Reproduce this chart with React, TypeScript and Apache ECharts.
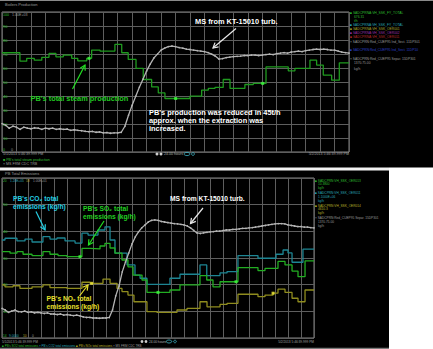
import React, { useEffect, useRef } from "react";
import * as echarts from "echarts";

// ---------- DATA ----------
// Top panel: PB's total steam production (step line), time in hours (0-24)
const steamTimes = [0, 1.24, 1.71, 2.23, 2.75, 3.25, 3.73, 4.24, 4.82, 5.24, 5.86, 6.2, 6.78, 7.81, 8.28, 8.73, 9.27, 9.77, 10.35, 10.81, 11.27, 13.0, 13.81, 14.27, 14.73, 15.3, 15.77, 16.8, 17.38, 18.26, 19.8, 20.26, 21.3, 21.76, 22.22, 22.8, 23.33, 24];
const steamValues = [70.9, 64.9, 66.9, 65.6, 67.6, 70.4, 68, 69.2, 66.9, 65.1, 66.9, 72.8, 72.1, 76.9, 70.9, 66.1, 59.7, 51.8, 46.5, 42.2, 38.2, 39.9, 44.2, 45.4, 46.1, 51.8, 45.4, 48.2, 49, 60.8, 58, 59.7, 65.6, 62.1, 54.9, 51.3, 63.7, 63.7];
const steamMarks = [[6.02, 66.9], [12.01, 38.2], [18.03, 49.0]];

// MS from KT-15010 turbine, sampled every quarter hour
const msStep = 0.25;
const msTop = [20.3, 19.1, 17.0, 18.4, 17.7, 16.2, 17.7, 17.0, 16.6, 17.3,
  17.0, 16.2, 17.0, 16.6, 17.0, 16.2, 16.6, 16.2, 16.4, 15.5,
  15.9, 15.5, 15.2, 14.8, 14.5, 14.7, 14.1, 14.3, 13.7, 13.9,
  13.4, 13.7, 13.6, 14.1, 18.4, 26.3, 33.4, 39.9, 46.3, 52.0,
  57.8, 62.8, 67.1, 69.9, 72.8, 74.2, 75.3, 75.7, 75.3, 74.6,
  74.2, 73.5, 73.2, 72.8, 72.4, 72.1, 71.7, 71.0, 69.9, 68.5,
  66.4, 66.7, 67.4, 67.8, 68.1, 68.3, 68.5, 68.9, 68.9, 69.2,
  69.2, 68.9, 69.2, 69.6, 69.9, 69.6, 70.3, 70.6, 71.0, 70.6,
  71.4, 71.7, 72.1, 71.7, 72.4, 72.8, 73.2, 73.5, 73.2, 73.5,
  73.2, 72.8, 72.8, 72.1, 71.4, 71.0, 70.6];
const msBottom = [11.1, 10.5, 9.6, 10.1, 10.5, 9.9, 9.8, 10.1, 9.6, 9.8,
  9.4, 9.6, 9.4, 9.2, 9.4, 9.0, 9.0, 8.8, 9.0, 8.6,
  8.8, 8.6, 8.4, 8.6, 8.3, 7.9, 7.7, 7.7, 7.5, 7.5,
  7.4, 7.5, 7.5, 7.7, 10.5, 15.8, 19.5, 24.8, 28.5, 31.9,
  35.3, 37.9, 39.8, 41.3, 42.4, 43.5, 44.1, 44.3, 44.1, 43.7,
  43.5, 43.3, 43.1, 42.9, 42.8, 42.6, 42.4, 42.0, 41.3, 40.3,
  39.4, 39.2, 39.4, 39.6, 39.8, 39.9, 40.1, 40.1, 40.3, 40.5,
  40.5, 40.7, 40.7, 40.9, 41.1, 41.1, 41.3, 41.4, 41.6, 41.8,
  42.0, 42.2, 42.4, 42.6, 42.8, 42.9, 42.9, 42.8, 42.4, 42.2,
  42.0, 41.8, 41.8, 41.6, 41.6, 41.4, 41.3];

// Bottom panel: emissions (step lines)
const co2Times = [0, 0.23, 1.15, 1.77, 2.31, 3.15, 3.69, 4.23, 4.85, 5.62, 6.15, 6.62, 7.38, 7.92, 8.31, 8.69, 9.62, 10.23, 10.62, 11.15, 12.92, 13.69, 15.23, 15.75, 16.77, 17.31, 18.15, 19.69, 21.08, 21.62, 22.0, 22.31, 23.15, 24];
const co2Values = [36.75, 37.4, 36.4, 37.1, 36.0, 38.0, 37.1, 37.5, 36.4, 35.6, 39.3, 38.6, 40.5, 41.7, 36.75, 31.8, 27.4, 23.6, 22.4, 20.1, 22.4, 23.9, 27.4, 23.4, 24.4, 24.9, 30.9, 29.9, 31.4, 33.0, 31.9, 28.4, 33.3, 33.3];
const so2Times = [0, 0.62, 1.15, 1.62, 2.31, 3.15, 3.69, 4.31, 5.0, 6.15, 6.77, 7.54, 7.92, 8.31, 8.69, 9.23, 9.69, 10.08, 10.77, 11.15, 12.92, 13.69, 15.23, 15.75, 16.23, 16.77, 18.15, 19.69, 20.23, 21.23, 21.77, 22.31, 22.77, 23.31, 24];
const so2Values = [32.4, 31.8, 32.4, 31.4, 30.9, 32.4, 31.4, 30.9, 30.5, 33.6, 33.4, 34.5, 35.5, 33.75, 31.8, 29.25, 26.7, 23.6, 21.75, 17.1, 18, 19.9, 23.4, 21.75, 19.2, 21.1, 26.4, 25.3, 26.1, 28.7, 27.4, 25.1, 23, 28.9, 28.9];
const noxTimes = [0, 0.23, 0.85, 1.38, 2.31, 3.15, 3.69, 5.0, 6.15, 6.77, 7.77, 8.31, 8.85, 9.23, 9.69, 10.15, 11.15, 11.92, 13.46, 14.23, 15.23, 15.77, 16.77, 17.31, 18.15, 19.69, 20.23, 20.85, 21.23, 21.77, 22.31, 22.77, 23.31, 24];
const noxValues = [19.9, 19.2, 19.6, 18.6, 19.2, 19.9, 18.9, 18.6, 20.9, 20.5, 22.1, 20.5, 18.6, 17.4, 16.1, 13.6, 9.9, 9.6, 10.5, 11.1, 13.6, 11.7, 12.6, 13.0, 16.4, 15.5, 16.1, 16.8, 18.3, 17.1, 14.9, 13.6, 18.0, 18.0];
const so2Marks = [[6.0, 30.5], [12.0, 17.1], [18.0, 21.1]];
const noxMarks = [[6.9, 20.5], [20.85, 16.8]];

const startLabel = "5/1/2013 5:46:39.999 PM";
const endLabel = "5/2/2013 5:46:39.999 PM";
const spanLabel = "24.00 hours";

// ---------- STYLE ----------
const FONT = '"Liberation Sans", Arial, sans-serif';
const GRID_LINE = "#5e5e5e";
const BORDER = "#858585";
const C_STEAM = "#1f9a1f";
const C_MS = "#b4b4b4";
const C_CO2 = "#1d8593";
const C_SO2 = "#22ad22";
const C_NOX = "#8f8c1e";

const pairs = (xs: number[], ys: number[]) => xs.map((x, i) => [x, ys[i]]);
const sampled = (ys: number[]) => ys.map((y, i) => [i * msStep, y]);

function txt(x: number, y: number, text: string, fill: string, size: number, bold = false, align = "left") {
  return {
    type: "text", x, y, z: 100,
    style: {
      text, fill,
      font: `${bold ? "bold " : ""}${size}px ${FONT}`,
      textAlign: align, textVerticalAlign: "middle",
    },
  };
}

function arrow(x1: number, y1: number, x2: number, y2: number, color: string) {
  const dx = x2 - x1, dy = y2 - y1, L = Math.hypot(dx, dy);
  const ux = dx / L, uy = dy / L;
  const hl = 5, hw = 2.8;
  const bx = x2 - ux * hl, by = y2 - uy * hl;
  const nx = -uy, ny = ux;
  return [
    { type: "line", z: 100, shape: { x1, y1, x2, y2 }, style: { stroke: color, lineWidth: 1.2 } },
    {
      type: "polyline", z: 100,
      shape: { points: [[bx + nx * hw, by + ny * hw], [x2, y2], [bx - nx * hw, by - ny * hw]] },
      style: { stroke: color, lineWidth: 1.2, fill: null },
    },
  ];
}

function axisX(gridIndex: number) {
  return {
    gridIndex, type: "value", min: 0, max: 24, interval: 1,
    axisLine: { show: false }, axisTick: { show: false }, axisLabel: { show: false },
    splitLine: { show: true, lineStyle: { color: GRID_LINE, width: 1 } },
  };
}
function axisY(gridIndex: number, max: number, color: string) {
  return {
    gridIndex, type: "value", min: 0, max, interval: 10,
    axisLine: { show: false }, axisTick: { show: false },
    axisLabel: { inside: true, fontSize: 4, color, margin: 1, fontFamily: FONT, showMinLabel: false, showMaxLabel: false },
    splitLine: { show: true, lineStyle: { color: GRID_LINE, width: 1 } },
  };
}
function stepLine(name: string, xi: number, data: number[][], color: string, w = 1.3) {
  return {
    name, type: "line", xAxisIndex: xi, yAxisIndex: xi, step: "end", data,
    showSymbol: false, lineStyle: { color, width: w }, silent: true,
  };
}
function msLine(xi: number, data: number[][]) {
  return {
    name: "MS FRM CDC TRB", type: "line", xAxisIndex: xi, yAxisIndex: xi, data,
    showSymbol: true, symbol: "circle", symbolSize: 1.6,
    itemStyle: { color: C_MS }, lineStyle: { color: C_MS, width: 1.3 }, silent: true,
  };
}
function marks(xi: number, data: number[][], color: string) {
  return {
    type: "scatter", xAxisIndex: xi, yAxisIndex: xi, data, symbol: "rect", symbolSize: 3,
    itemStyle: { color }, silent: true, z: 5,
  };
}

export default function App() {
  const ref = useRef<HTMLDivElement>(null);
  useEffect(() => {
    if (!ref.current) return;
    const chart = echarts.init(ref.current, undefined, { renderer: "svg" });
    const LS = 3.3;
    const topLegend = [
      txt(350, 12.7, "■ SADCPRNA:VH_SSK_FY_TOTAL", "#2fbf2f", LS),
      txt(354, 16.7, "676.31", "#2fbf2f", LS),
      txt(354, 20.7, "t/h", "#2fbf2f", LS),
      txt(350, 25, "■ SADCPRNA:VH_SSK_FY_TOTAL", "#2aa7b7", LS),
      txt(350, 29.3, "■ SADCPRNA:VH_SSK_OER001", "#a8a22a", LS),
      txt(350, 33.3, "■ SADCPRNA:VH_SSK_OER002", "#9a2fa8", LS),
      txt(350, 37.3, "■ SADCPRNA:VH_SSK_OER011", "#b52a2a", LS),
      txt(350, 41.7, "× SADCPRN:Red_CUEP95 Ind_Sect. 11DP301", "#9a9a9a", LS),
      txt(350, 50, "■ SADCPRN:Red_CUEP95 Ind_Sect. 11DP10", "#2a3fc0", LS),
      txt(350, 59.3, "× SADCPRN:Red_CUEP95 Separ. 15DP301", "#9a9a9a", LS),
      txt(354, 63.3, "1370.75.00", "#9a9a9a", LS),
      txt(354, 68.5, "kg/h", "#9a9a9a", LS),
    ];
    const bottomLegend = [
      txt(315, 180.3, "■ SADCPRN:VH_SSK_OER013", "#2fbf2f", 3.2),
      txt(318, 184.2, "10.3800", "#2fbf2f", 3.2),
      txt(318, 188, "kg/h", "#2fbf2f", 3.2),
      txt(315, 192.5, "■ SADCPRN:VH_SSK_OER011", "#2aa7b7", 3.2),
      txt(318, 196.4, "1.1000E+06", "#2aa7b7", 3.2),
      txt(318, 200.3, "kg/h", "#2aa7b7", 3.2),
      txt(315, 205.3, "■ SADCPRN:VH_SSK_OER014", "#b8b22a", 3.2),
      txt(318, 209.2, "4610.3", "#b8b22a", 3.2),
      txt(318, 213, "kg/h", "#b8b22a", 3.2),
      txt(315, 218, "× SADCPRN:Red_CUEP95 Separ. 15DP301", "#9a9a9a", 3.2),
      txt(318, 222, "1370.75.00", "#9a9a9a", 3.2),
      txt(318, 226, "kg/h", "#9a9a9a", 3.2),
    ];
    const graphics: any[] = [
      { type: "rect", z: 90, shape: { x: 0, y: 0, width: 433, height: 1 }, style: { fill: "#8a8a8a" } },
      { type: "rect", z: 90, shape: { x: 0, y: 167.5, width: 389, height: 3 }, style: { fill: "#f2f2f2" } },
      { type: "rect", z: 90, shape: { x: 389, y: 167.5, width: 44, height: 182 }, style: { fill: "#ffffff" } },
      { type: "rect", z: 90, shape: { x: 0, y: 347.8, width: 389, height: 1.2 }, style: { fill: "#7a7a7a" } },
      txt(5, 4.5, "Boilers Production", "#9a9a9a", 4),
      txt(5, 173.5, "PB Total Emissions", "#9a9a9a", 4),
      // top panel corner labels
      txt(3, 14.5, "100", "#2fbf2f", 3.6), txt(12, 14.5, "1.00E+03", "#9a9a9a", 3.6),
      txt(3, 149.5, "0", "#2fbf2f", 3.6), txt(11, 149.5, "0", "#9a9a9a", 3.6),
      // bottom panel corner labels
      txt(3, 180.5, "20", "#2fbf2f", 3.2), txt(10, 180.5, "1.20E+05", "#2aa7b7", 3.2),
      txt(26, 180.5, "18", "#b8b22a", 3.2), txt(33, 180.5, "1.00E+01", "#9a9a9a", 3.2),
      txt(3, 336, "14", "#2fbf2f", 3.2), txt(9, 336, "9.0000", "#2aa7b7", 3.2),
      txt(23, 336, "10", "#b8b22a", 3.2), txt(32, 336, "0", "#9a9a9a", 3.2),
      // footers
      txt(3, 154, startLabel, "#a0a0a0", 3.6), txt(349, 154, endLabel, "#a0a0a0", 3.6, false, "right"),
      { type: "circle", z: 100, shape: { cx: 157, cy: 154, r: 1.5 }, style: { fill: "#cfcfcf" } },
      { type: "circle", z: 100, shape: { cx: 161, cy: 154, r: 1.5 }, style: { fill: "#cfcfcf" } },
      txt(164, 154, spanLabel, "#b0b0b0", 3.6),
      { type: "ellipse", z: 100, shape: { cx: 187, cy: 154, rx: 3, ry: 1.6 }, style: { fill: "none", stroke: "#3fb3c3", lineWidth: 0.8 } },
      { type: "circle", z: 100, shape: { cx: 193, cy: 154, r: 1.4 }, style: { fill: "none", stroke: "#3fb3c3", lineWidth: 0.8 } },
      txt(3, 159.5, "■ PB's total steam production", "#2fbf2f", 3.6),
      txt(3, 164, "× MS FRM CDC TRB", "#9a9a9a", 3.6),
      txt(2, 341.5, startLabel, "#a0a0a0", 3.2), txt(314, 341.5, endLabel, "#a0a0a0", 3.2, false, "right"),
      { type: "circle", z: 100, shape: { cx: 142, cy: 341.5, r: 1.4 }, style: { fill: "#cfcfcf" } },
      { type: "circle", z: 100, shape: { cx: 146, cy: 341.5, r: 1.4 }, style: { fill: "#cfcfcf" } },
      txt(149, 341.5, spanLabel, "#b0b0b0", 3.2),
      { type: "ellipse", z: 100, shape: { cx: 169, cy: 341.5, rx: 2.8, ry: 1.5 }, style: { fill: "none", stroke: "#3fb3c3", lineWidth: 0.8 } },
      { type: "circle", z: 100, shape: { cx: 175, cy: 341.5, r: 1.3 }, style: { fill: "none", stroke: "#3fb3c3", lineWidth: 0.8 } },
      txt(2, 345.6, "■ PB's SO2 total emissions", "#2fbf2f", 3),
      txt(39, 345.6, "× PB's CO2 total emissions", "#2aa7b7", 3),
      txt(76, 345.6, "■ PB's NOx total emissions", "#b8b22a", 3),
      txt(113, 345.6, "× MS FRM CDC TRB", "#9a9a9a", 3),
      ...topLegend,
      ...bottomLegend,
      // annotations - top
      txt(195, 21, "MS from KT-15010 turb.", "#ffffff", 7.4, true),
      ...arrow(236, 28.5, 213, 48, "#e8e8e8"),
      txt(30.5, 98.3, "PB's total steam production", "#22c822", 7.4, true),
      ...arrow(72.5, 89, 85, 65, "#22e022"),
      txt(149, 112.7, "PB's production was reduced in 45t/h", "#ffffff", 7.4, true),
      txt(149, 120.7, "approx. when the extraction was", "#ffffff", 7.4, true),
      txt(149, 128.6, "increased.", "#ffffff", 7.4, true),
      // annotations - bottom
      txt(13, 198.3, "PB's CO₂ total", "#27cfe4", 6.7, true),
      txt(13, 206.7, "emissions (kg/h)", "#27cfe4", 6.7, true),
      ...arrow(36, 211.5, 45, 230, "#27cfe4"),
      txt(83, 208.3, "PB's SO₂ total", "#22d022", 6.7, true),
      txt(83, 216.7, "emissions (kg/h)", "#22d022", 6.7, true),
      ...arrow(104, 221, 88.5, 245, "#22e022"),
      txt(46.5, 298.3, "PB's NOₓ total", "#e8e02c", 6.7, true),
      txt(46.5, 306.7, "emissions (kg/h)", "#e8e02c", 6.7, true),
      ...arrow(79.5, 296, 88, 285, "#e8e02c"),
      txt(170, 198.5, "MS from KT-15010 turb.", "#ffffff", 6.7, true),
      ...arrow(203, 208, 190.5, 223.5, "#e8e8e8"),
    ];

    chart.setOption({
      animation: false,
      backgroundColor: "#000000",
      textStyle: { fontFamily: FONT },
      grid: [
        { left: 2, top: 12, width: 347, height: 140, show: true, borderColor: BORDER, borderWidth: 1, backgroundColor: "#000" },
        { left: 2, top: 178, width: 312, height: 160, show: true, borderColor: BORDER, borderWidth: 1, backgroundColor: "#000" },
      ],
      xAxis: [axisX(0), axisX(1)],
      yAxis: [axisY(0, 100, "#2fbf2f"), axisY(1, 60, "#2fbf2f")],
      series: [
        stepLine("PB's total steam production", 0, pairs(steamTimes, steamValues), C_STEAM, 1.3),
        msLine(0, sampled(msTop)),
        marks(0, steamMarks, "#3dff3d"),
        stepLine("PB's CO2 total emissions", 1, pairs(co2Times, co2Values), C_CO2, 1.3),
        stepLine("PB's SO2 total emissions", 1, pairs(so2Times, so2Values), C_SO2, 1.3),
        stepLine("PB's NOx total emissions", 1, pairs(noxTimes, noxValues), C_NOX, 1.3),
        msLine(1, sampled(msBottom)),
        marks(1, so2Marks, "#3dff3d"),
        marks(1, noxMarks, "#f2ec3a"),
      ],
      graphic: graphics,
    });
    return () => chart.dispose();
  }, []);
  return <div ref={ref} style={{ position: "fixed", left: 0, top: 0, width: 433, height: 349 }} />;
}
